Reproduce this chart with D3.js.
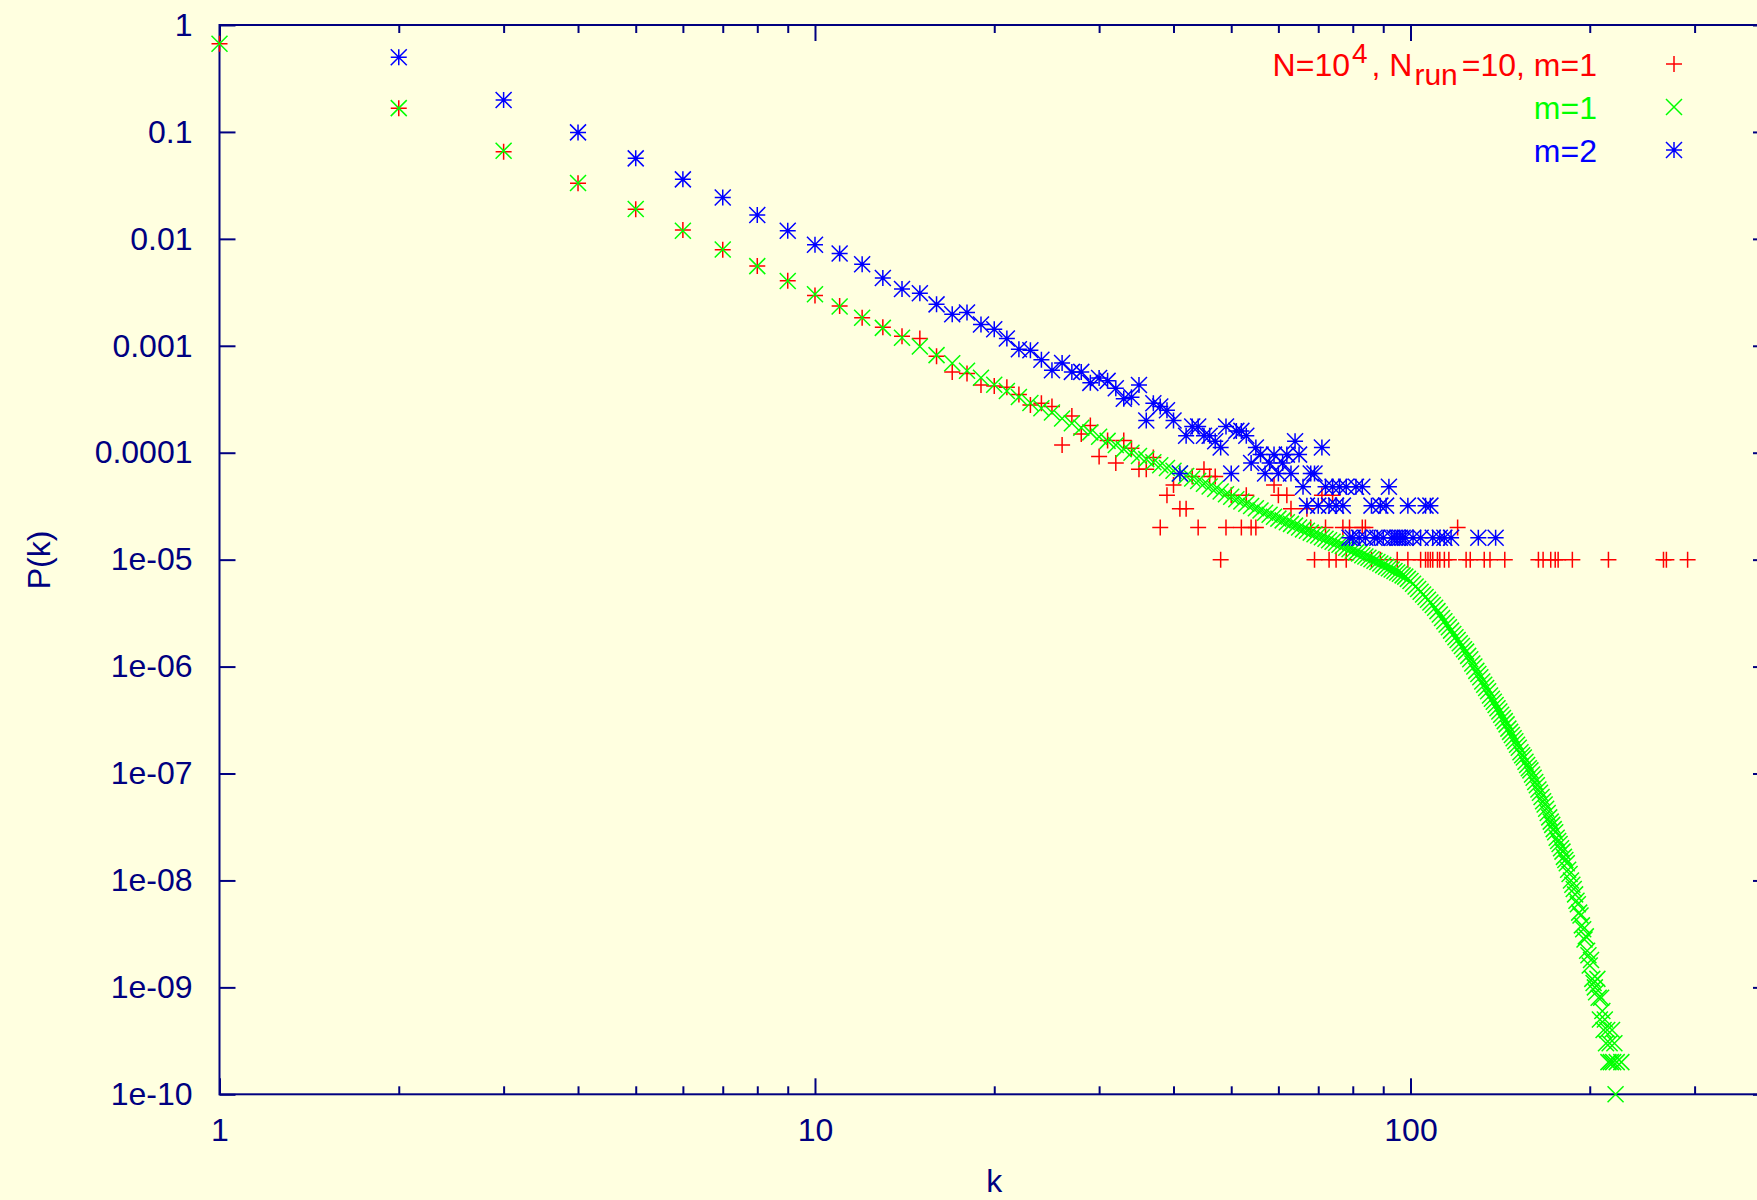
<!DOCTYPE html>
<html>
<head>
<meta charset="utf-8">
<script src="https://cdn.jsdelivr.net/npm/d3@7"></script>
<style>
html,body{margin:0;padding:0;background:#ffffe0;}
svg{display:block;}
text{font-family:"Liberation Sans",Arial,Helvetica,sans-serif;}
</style>
</head>
<body>
<svg id="chart" width="1757" height="1200"></svg>
<script>
// ---------------- data ----------------
// red "+" : N=10^4, N_run=10, m=1 (simulation)
const redK = [1,2,3,4,5,6,7,8,9,10,11,12,13,14,15,16,17,18,19,20,21,22,23,24,25,26,27,28,29,30,
  31,32,33,34,35,36,37,38,39,40,41,42,43,44,45,46,47,48,49,50,52,53,54,55,59,60,62,63,67,68,69,
  71,72,73,74,75,77,78,79,83,84,86,89,95,99,104,106,107,108,109,111,112,114,116,120,124,126,133,
  136,144,164,167,172,175,177,187,215,266,269,292];
const redP = [0.667,0.1667,0.0653,0.0332,0.0189,0.0121,0.0079,0.00557,0.00406,0.00296,0.00235,
  0.00183,0.00149,0.00123,0.00117,0.00080,0.00057,0.00055,0.00043,0.00042,0.00041,0.00035,0.00028,
  0.00029,0.00027,0.000118,0.00022,0.00015,0.00018,0.000092,0.00013,0.00008,0.00013,0.00011,
  0.00007,0.00007,0.00009,0.00002,0.00004,0.00005,0.00003,0.00003,0.00006,0.00002,0.00007,0.00006,
  0.00006,0.00001,0.00002,0.00004,0.00002,0.00004,0.00002,0.00002,0.00005,0.00004,0.00004,0.00003,
  0.00003,0.00002,0.00001,0.00004,0.00002,0.00001,0.00004,0.00001,0.00002,0.00001,0.00002,0.00002,
  0.00002,0.00001,0.00001,0.00001,0.00001,0.00001,0.00001,0.00001,0.00001,0.00001,0.00001,0.00001,
  0.00001,0.00001,0.00002,0.00001,0.00001,0.00001,0.00001,0.00001,0.00001,0.00001,0.00001,0.00001,
  0.00001,0.00001,0.00001,0.00001,0.00001,0.00001];

// green "x" : m=1
const greenK = [1,2,3,4,5,6,7,8,9,10,11,12,13,14,15,16,17,18,19,20,21,22,23,24,25,26,27,28,29,30,
  31,32,33,34,35,36,37,38,39,40,41,42,43,44,45,46,47,48,49,50,51,52,53,54,55,56,57,58,59,60,
  61,62,63,64,65,66,67,68,69,70,71,72,73,74,75,76,77,78,79,80,81,82,83,84,85,86,87,88,89,90,
  91,92,93,94,95,96,97,98,99,100,101,102,103,104,105,106,107,108,109,110,111,112,113,114,115,
  116,117,118,119,120,121,122,123,124,125,126,127,128,129,130,131,132,133,134,135,136,137,138,
  139,140,141,142,143,144,145,146,147,148,149,150,151,152,153,154,155,156,157,158,159,160,161,
  162,163,164,165,166,167,168,169,170,171,172,173,174,175,176,177,178,179,180,181,182,183,184,
  185,186,187,188,189,190,191,192,193,194,195,196,197,198,199,200,201,202,203,204,205,206,207,
  208,209,210,211,212,213,214,215,216,217,218,219,220,221,222,226];
const greenP = [0.667,0.167,0.0667,0.0333,0.0190,0.0119,0.00794,0.00556,0.00404,0.00303,0.00233,
  0.00183,0.00147,0.00119,0.000983,0.000818,0.000688,0.000585,0.000502,0.000432,0.000378,0.000332,
  0.000292,0.000261,0.000238,0.000209,0.000189,0.000171,0.000155,0.000141,
  1.29e-4,1.18e-4,1.08e-4,1.00e-4,9.31e-5,8.71e-5,8.16e-5,7.64e-5,7.19e-5,6.78e-5,
  6.38e-5,6.05e-5,5.73e-5,5.43e-5,5.13e-5,4.83e-5,4.57e-5,4.33e-5,4.09e-5,3.88e-5,
  3.67e-5,3.50e-5,3.33e-5,3.17e-5,3.02e-5,2.88e-5,2.74e-5,2.63e-5,2.52e-5,2.42e-5,
  2.33e-5,2.24e-5,2.16e-5,2.08e-5,2.00e-5,1.92e-5,1.86e-5,1.79e-5,1.73e-5,1.68e-5,
  1.62e-5,1.57e-5,1.52e-5,1.47e-5,1.43e-5,1.38e-5,1.34e-5,1.29e-5,1.25e-5,1.21e-5,
  1.17e-5,1.14e-5,1.10e-5,1.07e-5,1.04e-5,1.01e-5,9.75e-6,9.50e-6,9.19e-6,8.89e-6,
  8.59e-6,8.32e-6,8.09e-6,7.83e-6,7.57e-6,7.38e-6,7.13e-6,6.94e-6,6.61e-6,6.31e-6,
  5.96e-6,5.62e-6,5.31e-6,5.01e-6,4.73e-6,4.47e-6,4.22e-6,3.98e-6,3.76e-6,3.55e-6,
  3.30e-6,3.07e-6,2.85e-6,2.65e-6,2.47e-6,2.33e-6,2.17e-6,2.02e-6,1.88e-6,1.77e-6,
  1.65e-6,1.56e-6,1.45e-6,1.38e-6,1.26e-6,1.17e-6,1.07e-6,1.00e-6,9.12e-7,8.51e-7,
  7.94e-7,7.24e-7,6.76e-7,6.31e-7,5.89e-7,5.37e-7,5.01e-7,4.68e-7,4.37e-7,4.07e-7,
  3.80e-7,3.55e-7,3.31e-7,3.09e-7,2.88e-7,2.63e-7,2.45e-7,2.29e-7,2.14e-7,2.00e-7,
  1.86e-7,1.74e-7,1.58e-7,1.48e-7,1.41e-7,1.29e-7,1.20e-7,1.12e-7,1.07e-7,9.77e-8,
  9.12e-8,8.32e-8,7.76e-8,7.08e-8,6.61e-8,6.03e-8,5.50e-8,5.13e-8,4.68e-8,4.27e-8,
  3.89e-8,3.55e-8,3.31e-8,3.02e-8,2.82e-8,2.51e-8,2.34e-8,2.19e-8,2.00e-8,1.86e-8,
  1.66e-8,1.55e-8,1.45e-8,1.26e-8,1.15e-8,1.00e-8,9.12e-9,8.32e-9,7.41e-9,6.46e-9,
  6.0e-9,5.0e-9,4.7e-9,3.8e-9,3.5e-9,2.8e-9,3.0e-9,2.2e-9,2.0e-9,1.6e-9,
  1.8e-9,1.2e-9,1.1e-9,1.0e-9,9e-10,1.2e-9,8e-10,5e-10,8e-10,6e-10,
  4e-10,5e-10,3e-10,4e-10,2e-10,3e-10,2e-10,4e-10,2e-10,3e-10,
  1e-10,2e-10,2e-10];

// blue "*" : m=2
const blueK = [2,3,4,5,6,7,8,9,10,11,12,13,14,15,16,17,18,19,20,21,22,23,24,25,26,27,28,29,30,
  31,32,33,34,35,36,37,38,39,40,41,42,43,44,45,46,47,48,49,50,51,52,53,54,55,56,57,58,59,60,
  61,62,63,64,65,66,67,68,69,70,71,72,73,74,75,76,77,78,79,80,81,82,83,84,86,87,88,89,90,91,
  92,93,94,95,96,97,98,99,101,104,106,108,109,112,114,117,130,139];
const blueP = [0.499,0.199,0.099,0.0566,0.036,0.0244,0.0167,0.0119,0.0088,0.0073,0.0058,0.0043,
  0.0034,0.0031,0.00244,0.00197,0.00205,0.00158,0.00143,0.00117,0.00093,0.00091,0.00074,0.00059,
  0.00069,0.00057,0.00057,0.00045,0.00050,0.00047,0.00040,0.00032,0.00033,0.00043,0.00020,0.00029,
  0.00027,0.00025,0.00020,0.000064,0.000144,0.000176,0.000176,0.000144,0.000144,0.000128,0.000112,
  0.000176,0.000064,0.00016,0.00016,0.000144,0.00008,0.000112,0.000096,0.000064,0.00008,0.000096,
  0.000064,0.00008,0.000096,0.000064,0.000128,0.000096,0.000048,0.000032,0.000064,0.000064,
  0.000032,0.000112,0.000048,0.000032,0.000048,0.000032,0.000048,0.000032,0.000048,0.000016,
  0.000016,0.000048,0.000016,0.000048,0.000016,0.000032,0.000016,0.000016,0.000032,0.000016,
  0.000032,0.000048,0.000016,0.000016,0.000016,0.000016,0.000016,0.000016,0.000032,0.000016,
  0.000016,0.000032,0.000032,0.000016,0.000016,0.000016,0.000016,0.000016,0.000016];

// axes
const xDomain = [1, 400];
const yDomain = [1e-10, 1];
const xMajorTicks = [1, 10, 100];
const xMajorLabels = ["1", "10", "100"];
const xMinorTicks = [2,3,4,5,6,7,8,9,20,30,40,50,60,70,80,90,200,300];
const yTicks = [1,1e-1,1e-2,1e-3,1e-4,1e-5,1e-6,1e-7,1e-8,1e-9,1e-10];
const yLabels = ["1","0.1","0.01","0.001","0.0001","1e-05","1e-06","1e-07","1e-08","1e-09","1e-10"];
const xTitle = "k";
const yTitle = "P(k)";

// ---------------- drawing ----------------
const W = 1757, H = 1200;
const L = 219.5, T = 25, B = 1094.3, R = 1769;
const AXIS = "#000080";
const svg = d3.select("#chart");
svg.append("rect").attr("width", W).attr("height", H).attr("fill", "#ffffe0");

const x = d3.scaleLog().domain(xDomain).range([L, R]);
const y = d3.scaleLog().domain(yDomain).range([B, T]);

function styleAxis(g) {
  g.select(".domain").remove();
  g.selectAll("line").attr("stroke", AXIS).attr("stroke-width", 2);
  g.selectAll("text").attr("fill", AXIS).attr("font-size", 32)
    .attr("font-family", '"Liberation Sans",Arial,Helvetica,sans-serif');
}

// bottom axis (labels) + minor
svg.append("g").attr("transform", `translate(0,${B})`)
  .call(d3.axisBottom(x).tickValues(xMajorTicks).tickSizeInner(-16).tickSizeOuter(0).tickPadding(24)
    .tickFormat((d, i) => xMajorLabels[i]))
  .call(styleAxis);
svg.append("g").attr("transform", `translate(0,${B})`)
  .call(d3.axisBottom(x).tickValues(xMinorTicks).tickSizeInner(-8).tickSizeOuter(0).tickFormat(""))
  .call(styleAxis);
// top mirror
svg.append("g").attr("transform", `translate(0,${T})`)
  .call(d3.axisTop(x).tickValues(xMajorTicks).tickSizeInner(-16).tickSizeOuter(0).tickFormat(""))
  .call(styleAxis);
svg.append("g").attr("transform", `translate(0,${T})`)
  .call(d3.axisTop(x).tickValues(xMinorTicks).tickSizeInner(-8).tickSizeOuter(0).tickFormat(""))
  .call(styleAxis);
// left axis with labels
svg.append("g").attr("transform", `translate(${L},0)`)
  .call(d3.axisLeft(y).tickValues(yTicks).tickSizeInner(-16).tickSizeOuter(0).tickPadding(27)
    .tickFormat((d, i) => yLabels[i]))
  .call(styleAxis);
// right mirror
svg.append("g").attr("transform", `translate(${R},0)`)
  .call(d3.axisRight(y).tickValues(yTicks).tickSizeInner(-16).tickSizeOuter(0).tickFormat(""))
  .call(styleAxis);

// border
svg.append("rect").attr("x", L).attr("y", T).attr("width", R - L).attr("height", B - T)
  .attr("fill", "none").attr("stroke", AXIS).attr("stroke-width", 2);

// axis titles
svg.append("text").attr("x", (L + R) / 2).attr("y", 1192).attr("text-anchor", "middle")
  .attr("font-size", 32).attr("fill", AXIS).text(xTitle);
svg.append("text").attr("transform", "translate(50,560) rotate(-90)").attr("text-anchor", "middle")
  .attr("font-size", 32).attr("fill", AXIS).text(yTitle);

// markers
const S = 8;
const plusPath = `M${-S},0H${S}M0,${-S}V${S}`;
const crossPath = `M${-S},${-S}L${S},${S}M${-S},${S}L${S},${-S}`;
const starPath = plusPath + crossPath;

function drawSeries(ks, ps, path, color) {
  const data = ks.map((k, i) => ({k, p: ps[i]})).filter(d => d.p > 0);
  svg.append("g").selectAll("path").data(data).join("path")
    .attr("transform", d => `translate(${x(d.k)},${y(d.p)})`)
    .attr("d", path).attr("fill", "none").attr("stroke", color).attr("stroke-width", 1.5);
}
drawSeries(redK, redP, plusPath, "#ff0000");
drawSeries(greenK, greenP, crossPath, "#00ff00");
drawSeries(blueK, blueP, starPath, "#0000ff");

// legend
const legend = [
  {color: "#ff0000", path: plusPath, cy: 64},
  {color: "#00ff00", path: crossPath, cy: 107},
  {color: "#0000ff", path: starPath, cy: 150}
];
const lt0 = svg.append("text").attr("x", 1597).attr("y", legend[0].cy + 11.5).attr("text-anchor", "end")
  .attr("font-size", 32).attr("fill", legend[0].color);
lt0.append("tspan").text("N=10");
lt0.append("tspan").attr("font-size", 28).attr("dx", 2).attr("dy", -13).text("4");
lt0.append("tspan").attr("dx", 4).attr("dy", 13).text(", N");
lt0.append("tspan").attr("font-size", 30).attr("dx", 2).attr("dy", 9).text("run");
lt0.append("tspan").attr("dx", 4).attr("dy", -9).text("=10, m=1");
svg.append("text").attr("x", 1597).attr("y", legend[1].cy + 11.5).attr("text-anchor", "end")
  .attr("font-size", 32).attr("fill", legend[1].color).text("m=1");
svg.append("text").attr("x", 1597).attr("y", legend[2].cy + 11.5).attr("text-anchor", "end")
  .attr("font-size", 32).attr("fill", legend[2].color).text("m=2");
legend.forEach(l => {
  svg.append("path").attr("transform", `translate(1674,${l.cy})`).attr("d", l.path)
    .attr("fill", "none").attr("stroke", l.color).attr("stroke-width", 1.5);
});
</script>
</body>
</html>
